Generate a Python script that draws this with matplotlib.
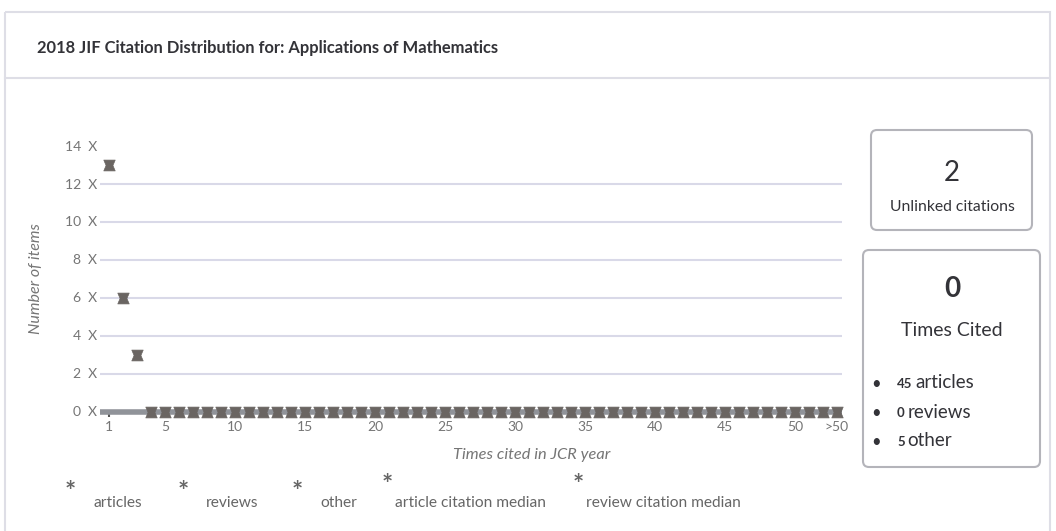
import numpy as np
import matplotlib.pyplot as plt
from matplotlib.path import Path
from matplotlib.patches import FancyBboxPatch, Rectangle

plt.rcParams['font.family'] = ['Lato', 'DejaVu Sans']

# data
times_cited = list(range(1, 54))
articles = [13, 6, 3, 0, 0, 0, 0, 0, 0, 0,
            0, 0, 0, 0, 0, 0, 0, 0, 0, 0,
            0, 0, 0, 0, 0, 0, 0, 0, 0, 0,
            0, 0, 0, 0, 0, 0, 0, 0, 0, 0,
            0, 0, 0, 0, 0, 0, 0, 0, 0, 0,
            0, 0, 0]
x_ticks = [1, 5, 10, 15, 20, 25, 30, 35, 40, 45, 50, 53]
x_labels = ['1', '5', '10', '15', '20', '25', '30', '35', '40', '45', '50', '>50']
y_ticks = [0, 2, 4, 6, 8, 10, 12, 14]
legend_items = ['articles', 'reviews', 'other', 'article citation median', 'review citation median']
unlinked = 2
times_cited_total = 0
counts = [('45', 'articles'), ('0', 'reviews'), ('5', 'other')]

W, H = 1056, 531
fig = plt.figure(figsize=(W / 100, H / 100), dpi=100)

# background layer in pixel coordinates
bg = fig.add_axes([0, 0, 1, 1])
bg.set_xlim(0, W)
bg.set_ylim(H, 0)
bg.axis('off')

bg.add_patch(Rectangle((5, 12), 1045, 540, fill=False, ec='#dedee6', lw=1.5))
bg.plot([5, 1050], [78, 78], color='#dedee6', lw=1.5)
bg.text(37, 48, '2018 JIF Citation Distribution for: Applications of Mathematics',
        fontsize=11.9, fontweight='bold', color='#333338', va='center', ha='left')

# right side boxes
bg.add_patch(FancyBboxPatch((871, 130), 161, 100, boxstyle='round,pad=0,rounding_size=6',
                            fill=False, ec='#b4b4ba', lw=1.5))
bg.text(952, 173, str(unlinked), fontsize=20, color='#333338', ha='center', va='center')
bg.text(952, 207, 'Unlinked citations', fontsize=11.3, color='#333338', ha='center', va='center')

bg.add_patch(FancyBboxPatch((863, 250), 177, 217, boxstyle='round,pad=0,rounding_size=6',
                            fill=False, ec='#b4b4ba', lw=1.5))
bg.text(952, 289, str(times_cited_total), fontsize=20, fontweight='bold', color='#333338',
        ha='center', va='center')
bg.text(952, 330, 'Times Cited', fontsize=14, color='#333338', ha='center', va='center')
for i, (n, lab) in enumerate(counts):
    yy = 383 + i * 29
    bg.text(876, yy + 1, '•', fontsize=12, color='#333338', ha='center', va='center')
    t = bg.text(897, yy + 1, n, fontsize=9.5, fontweight='bold', color='#333338', ha='left', va='center')
    fig.canvas.draw()
    bb = t.get_window_extent()
    bg.text(897 + bb.width + 3, yy, lab, fontsize=13.5, color='#333338', ha='left', va='center')

# legend at bottom
leg_star_x = [70, 183, 297, 387, 578]
leg_star_y = [492, 492, 492, 485, 485]
leg_text_x = [94, 206, 320, 395, 586]
for sx, sy, tx, lab in zip(leg_star_x, leg_star_y, leg_text_x, legend_items):
    bg.text(sx, sy, '*', fontsize=19, fontweight='bold', color='#666666', ha='center', va='center')
    bg.text(tx, 503, lab, fontsize=11.2, color='#666666', ha='left', va='center')

# main plot
y0, y1 = -0.3, 14.3
px_bottom = 411.5 - y0 * 19
px_top = 411.5 - y1 * 19
ax = fig.add_axes([100 / W, (H - px_bottom) / H, 742 / W, (px_bottom - px_top) / H])
ax.patch.set_alpha(0)
ax.set_xlim(0.36, 53.36)
ax.set_ylim(y0, y1)
for s in ax.spines.values():
    s.set_visible(False)

for v in y_ticks[1:-1]:
    ax.axhline(v, color='#d9d9e8', lw=1.5, zorder=1)
ax.axhline(0, color='#909399', lw=4, zorder=2)

hourglass = Path([(-1, 0.95), (1, 0.95), (0.6, 0), (1, -0.95), (-1, -0.95), (-0.6, 0), (-1, 0.95)],
                 [Path.MOVETO] + [Path.LINETO] * 5 + [Path.CLOSEPOLY])
ax.plot(times_cited, articles, ls='none', marker=hourglass, markersize=8.2,
        color='#6a6562', mec='#6a6562', mew=0.5, zorder=3, clip_on=False)

ax.set_xticks(x_ticks)
ax.set_xticklabels(x_labels)
ax.set_yticks(y_ticks)
ax.set_yticklabels([f'{v}  X' for v in y_ticks])
ax.tick_params(axis='x', length=5, width=1.5, color='#555555', labelcolor='#757575',
               labelsize=10, pad=3, direction='in')
ax.tick_params(axis='y', length=0, labelcolor='#757575', labelsize=10, pad=2)
for t in ax.xaxis.get_major_ticks():
    t.tick1line.set_zorder(5)

ax.set_ylabel('Number of items', fontsize=11.5, style='italic', color='#757575', labelpad=16)
fig.text(532 / W, (H - 455) / H, 'Times cited in JCR year', fontsize=11.8, style='italic',
         color='#757575', ha='center', va='center')

fig.savefig('out.png', dpi=100)
